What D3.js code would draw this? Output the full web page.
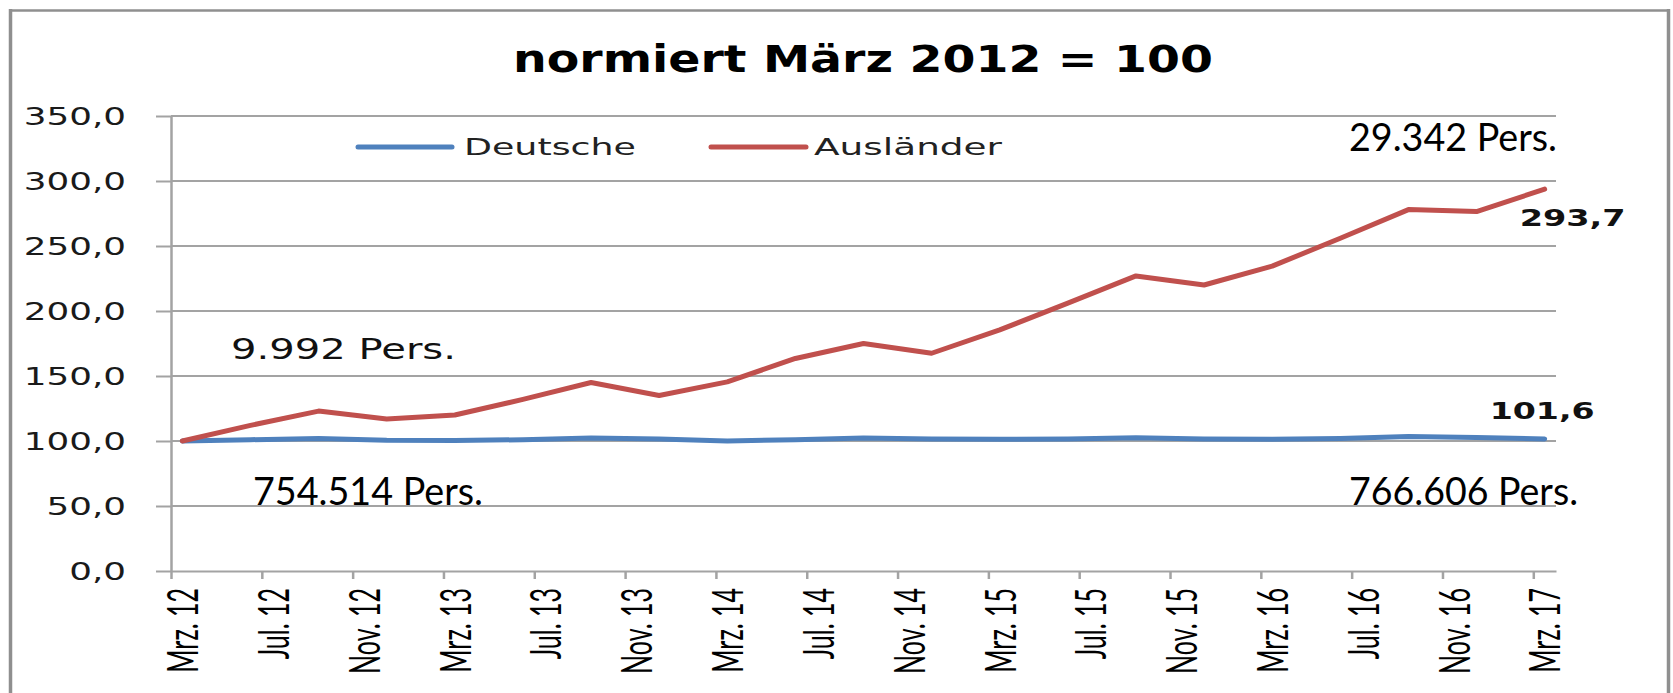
<!DOCTYPE html>
<html><head><meta charset="utf-8">
<script src="https://cdn.jsdelivr.net/npm/d3@7"></script>
<style>body{margin:0;background:#fff} svg{display:block}</style>
</head><body>
<svg id="c" width="1673" height="693"></svg>
<script>
// ---------- data ----------
const chartTitle = "normiert März 2012 = 100";
const seriesNames = ["Deutsche", "Ausländer"];
const quarters = ["2012-03","2012-06","2012-09","2012-12","2013-03","2013-06","2013-09","2013-12",
  "2014-03","2014-06","2014-09","2014-12","2015-03","2015-06","2015-09","2015-12",
  "2016-03","2016-06","2016-09","2016-12","2017-03"];
const deutsche = [100, 101, 102, 100.5, 100.3, 101, 102.3, 101.5, 100, 101, 102.3, 101.5,
  101.3, 101.5, 102.5, 101.5, 101.3, 102, 103.5, 102.7, 101.6];
const auslaender = [100, 112, 123, 117, 120, 132, 145, 135, 145.5, 163.5, 175, 167.5,
  185.5, 206, 227, 220, 234.5, 256, 278, 276.5, 293.7];
const xTickLabels = ["Mrz. 12","Jul. 12","Nov. 12","Mrz. 13","Jul. 13","Nov. 13","Mrz. 14","Jul. 14",
  "Nov. 14","Mrz. 15","Jul. 15","Nov. 15","Mrz. 16","Jul. 16","Nov. 16","Mrz. 17"];
const yTicks = [0, 50, 100, 150, 200, 250, 300, 350];
const personNotes = ["9.992 Pers.", "29.342 Pers.", "754.514 Pers.", "766.606 Pers."];

// ---------- setup ----------
const W = 1673, H = 693;
const BLUE = "#4F81BD", RED = "#C0504D", GRID = "#A3A3A3";
const svg = d3.select("#c");
svg.append("rect").attr("width", W).attr("height", H).attr("fill", "#fff");

const de = d3.formatLocale({decimal: ",", thousands: ".", grouping: [3], currency: ["", "€"]});
const fmt1 = de.format(".1f");

const monthIndex = s => { const [yy, mm] = s.split("-").map(Number); return (yy - 2012) * 12 + (mm - 3); };
const x = d3.scaleLinear().domain([0, 61]).range([171, 1556]);
const y = d3.scaleLinear().domain([0, 350]).range([571, 116]);

// frame
const frame = svg.append("g").attr("stroke", "#8f8f8f").attr("fill", "none");
frame.append("line").attr("x1", 10.5).attr("x2", 10.5).attr("y1", 9).attr("y2", H).attr("stroke-width", 3.5);
frame.append("line").attr("x1", 9).attr("x2", 1670).attr("y1", 10.5).attr("y2", 10.5).attr("stroke-width", 2.5);
frame.append("line").attr("x1", 1668.5).attr("x2", 1668.5).attr("y1", 9).attr("y2", H).attr("stroke-width", 3.5);

// gridlines
svg.append("g").selectAll("line").data(yTicks.filter(v => v > 0)).join("line")
  .attr("x1", x(0)).attr("x2", x(61)).attr("y1", d => y(d)).attr("y2", d => y(d))
  .attr("stroke", GRID).attr("stroke-width", 2);

// y axis
const ya = svg.append("g").attr("transform", `translate(${x(0)},0)`)
  .call(d3.axisLeft(y).tickValues(yTicks).tickSize(15).tickSizeOuter(0).tickFormat(fmt1));
ya.select(".domain").attr("stroke", GRID).attr("stroke-width", 2.5);
ya.selectAll(".tick line").attr("stroke", GRID).attr("stroke-width", 2);
ya.selectAll(".tick text")
  .attr("font-family", "DejaVu Sans").attr("font-size", 24.5).attr("fill", "#1a1a1a")
  .attr("text-anchor", "end").attr("x", -45 / 1.46).attr("dy", "0.36em")
  .attr("transform", "scale(1.46,1)");

// x axis
const tickMonths = xTickLabels.map((d, i) => i * 4);
const xa = svg.append("g").attr("transform", `translate(0,${y(0)})`)
  .call(d3.axisBottom(x).tickValues(tickMonths).tickSize(8).tickSizeOuter(0)
    .tickFormat((d, i) => xTickLabels[i]));
xa.select(".domain").attr("stroke", GRID).attr("stroke-width", 2);
xa.selectAll(".tick line").attr("stroke", GRID).attr("stroke-width", 2.5);
const half = x(0.5) - x(0);
xa.selectAll(".tick text")
  .attr("font-family", "Lato").attr("font-size", 25).attr("fill", "#000")
  .attr("text-anchor", "end").attr("x", 0).attr("y", 0).attr("dy", "0.36em")
  .attr("transform", `translate(${half},17) scale(1.7,1) rotate(-90)`);

// lines
const line = d3.line().x(d => x(monthIndex(d.q) + 0.5)).y(d => y(d.v));
const deData = quarters.map((q, i) => ({q, v: deutsche[i]}));
const auData = quarters.map((q, i) => ({q, v: auslaender[i]}));
svg.append("path").datum(deData).attr("d", line).attr("fill", "none")
  .attr("stroke", BLUE).attr("stroke-width", 5).attr("stroke-linejoin", "round").attr("stroke-linecap", "round");
svg.append("path").datum(auData).attr("d", line).attr("fill", "none")
  .attr("stroke", RED).attr("stroke-width", 5).attr("stroke-linejoin", "round").attr("stroke-linecap", "round");

// title
svg.append("text").text(chartTitle).attr("x", 863).attr("y", 72).attr("text-anchor", "middle")
  .attr("font-family", "DejaVu Sans").attr("font-weight", "bold").attr("font-size", 37)
  .attr("textLength", 700).attr("lengthAdjust", "spacingAndGlyphs").attr("fill", "#000");

// legend
const lg = svg.append("g");
lg.append("line").attr("x1", 358).attr("x2", 452).attr("y1", 147).attr("y2", 147)
  .attr("stroke", BLUE).attr("stroke-width", 5).attr("stroke-linecap", "round");
lg.append("line").attr("x1", 711).attr("x2", 806).attr("y1", 147).attr("y2", 147)
  .attr("stroke", RED).attr("stroke-width", 5).attr("stroke-linecap", "round");
lg.append("text").text(seriesNames[0]).attr("x", 464).attr("y", 154.5)
  .attr("font-family", "DejaVu Sans").attr("font-size", 23.5).attr("fill", "#222")
  .attr("textLength", 172).attr("lengthAdjust", "spacingAndGlyphs");
lg.append("text").text(seriesNames[1]).attr("x", 814).attr("y", 154.5)
  .attr("font-family", "DejaVu Sans").attr("font-size", 23.5).attr("fill", "#222")
  .attr("textLength", 188).attr("lengthAdjust", "spacingAndGlyphs");

// person notes
svg.append("text").text(personNotes[0]).attr("x", 231).attr("y", 358.5)
  .attr("font-family", "DejaVu Sans").attr("font-size", 27.5).attr("fill", "#111")
  .attr("textLength", 225).attr("lengthAdjust", "spacingAndGlyphs");
const calib = [[personNotes[1], 1349, 151, 208], [personNotes[2], 253, 505, 230], [personNotes[3], 1349, 505, 229]];
calib.forEach(([t, px, py, w]) => {
  svg.append("text").text(t).attr("x", px).attr("y", py)
    .attr("font-family", "Lato").attr("font-size", 39).attr("fill", "#000")
    .attr("textLength", w).attr("lengthAdjust", "spacingAndGlyphs");
});

// end-point data labels
const last = quarters.length - 1;
const lx = x(monthIndex(quarters[last]) + 0.5);
svg.append("text").text(fmt1(auslaender[last])).attr("x", lx - 25).attr("y", y(auslaender[last]) + 37)
  .attr("font-family", "DejaVu Sans").attr("font-weight", "bold").attr("font-size", 23).attr("fill", "#111")
  .attr("textLength", 106).attr("lengthAdjust", "spacingAndGlyphs");
svg.append("text").text(fmt1(deutsche[last])).attr("x", lx - 55).attr("y", y(deutsche[last]) - 20)
  .attr("font-family", "DejaVu Sans").attr("font-weight", "bold").attr("font-size", 23).attr("fill", "#111")
  .attr("textLength", 105).attr("lengthAdjust", "spacingAndGlyphs");
</script>
</body></html>
